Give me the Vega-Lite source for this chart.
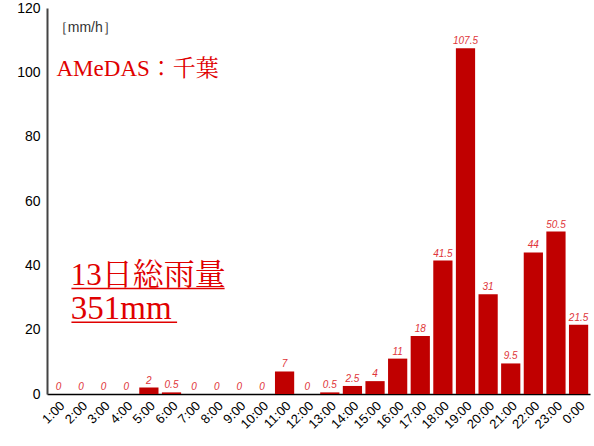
{
  "$schema": "https://vega.github.io/schema/vega-lite/v6.json",
  "width": 543,
  "height": 386,
  "autosize": {"type": "none"},
  "padding": {"left": 47, "top": 8, "right": 4, "bottom": 52},
  "background": "white",
  "config": {"view": {"stroke": null}, "font": "Liberation Sans"},
  "datasets": {
    "notes": [
      {"label": "［mm/h］", "kind": "unit", "px": 0.3, "py": 112.5, "size": 14, "color": "#333"},
      {"label": "AMeDAS：千葉", "kind": "red", "px": 0.42, "py": 99, "size": 23, "color": "#e00000"},
      {"label": "13日総雨量", "kind": "red", "px": 1.05, "py": 33.8, "size": 31, "color": "#e00000"},
      {"label": "351mm", "kind": "red", "px": 1.05, "py": 23.3, "size": 33, "color": "#e00000"}
    ]
  },
  "layer": [
    {
      "data": {
        "values": [
          {"hour": "1:00", "rain": 0},
          {"hour": "2:00", "rain": 0},
          {"hour": "3:00", "rain": 0},
          {"hour": "4:00", "rain": 0},
          {"hour": "5:00", "rain": 2},
          {"hour": "6:00", "rain": 0.5},
          {"hour": "7:00", "rain": 0},
          {"hour": "8:00", "rain": 0},
          {"hour": "9:00", "rain": 0},
          {"hour": "10:00", "rain": 0},
          {"hour": "11:00", "rain": 7},
          {"hour": "12:00", "rain": 0},
          {"hour": "13:00", "rain": 0.5},
          {"hour": "14:00", "rain": 2.5},
          {"hour": "15:00", "rain": 4},
          {"hour": "16:00", "rain": 11},
          {"hour": "17:00", "rain": 18},
          {"hour": "18:00", "rain": 41.5},
          {"hour": "19:00", "rain": 107.5},
          {"hour": "20:00", "rain": 31},
          {"hour": "21:00", "rain": 9.5},
          {"hour": "22:00", "rain": 44},
          {"hour": "23:00", "rain": 50.5},
          {"hour": "0:00", "rain": 21.5}
        ]
      },
      "encoding": {
        "x": {
          "field": "hour",
          "type": "ordinal",
          "sort": null,
          "scale": {"paddingInner": 0.15, "paddingOuter": 0.08},
          "axis": {
            "title": null,
            "labelAngle": -45,
            "labelFontSize": 13,
            "labelColor": "#000",
            "labelPadding": 5,
            "ticks": false,
            "domainColor": "#000",
            "domainWidth": 1.5
          }
        },
        "y": {
          "field": "rain",
          "type": "quantitative",
          "scale": {"domain": [0, 120], "nice": false},
          "axis": {
            "title": null,
            "values": [0, 20, 40, 60, 80, 100, 120],
            "grid": false,
            "ticks": false,
            "labelFontSize": 14,
            "labelColor": "#000",
            "labelPadding": 7,
            "domainColor": "#444",
            "domainWidth": 2
          }
        }
      },
      "layer": [
        {"mark": {"type": "bar", "color": "#c00000"}},
        {
          "mark": {
            "type": "text",
            "dy": -7,
            "fontSize": 10,
            "fontStyle": "italic",
            "color": "#e0353a"
          },
          "encoding": {"text": {"field": "rain", "type": "nominal"}}
        }
      ]
    },
    {
      "data": {"name": "notes"},
      "transform": [{"filter": "datum.kind == 'unit'"}],
      "mark": {"type": "text", "align": "left", "baseline": "alphabetic", "font": "Liberation Sans"},
      "encoding": {
        "x": {"field": "px", "type": "quantitative", "scale": {"domain": [0, 24]}, "axis": null},
        "y": {"field": "py", "type": "quantitative"},
        "text": {"field": "label"},
        "size": {"field": "size", "type": "quantitative", "scale": null},
        "color": {"field": "color", "type": "nominal", "scale": null}
      }
    },
    {
      "data": {"name": "notes"},
      "transform": [{"filter": "datum.kind == 'red'"}],
      "mark": {"type": "text", "align": "left", "baseline": "alphabetic", "font": "Liberation Serif, Noto Serif CJK JP, Noto Sans CJK JP"},
      "encoding": {
        "x": {"field": "px", "type": "quantitative", "scale": {"domain": [0, 24]}, "axis": null},
        "y": {"field": "py", "type": "quantitative"},
        "text": {"field": "label"},
        "size": {"field": "size", "type": "quantitative", "scale": null},
        "color": {"field": "color", "type": "nominal", "scale": null}
      }
    },
    {
      "data": {
        "values": [
          {"x1": 1.08, "x2": 7.85, "uy": 32.8},
          {"x1": 1.08, "x2": 5.75, "uy": 22.3}
        ]
      },
      "mark": {"type": "rule", "color": "#e00000", "strokeWidth": 1.5},
      "encoding": {
        "x": {"field": "x1", "type": "quantitative", "scale": {"domain": [0, 24]}, "axis": null},
        "x2": {"field": "x2"},
        "y": {"field": "uy", "type": "quantitative"}
      }
    }
  ],
  "resolve": {"scale": {"x": "independent"}}
}
